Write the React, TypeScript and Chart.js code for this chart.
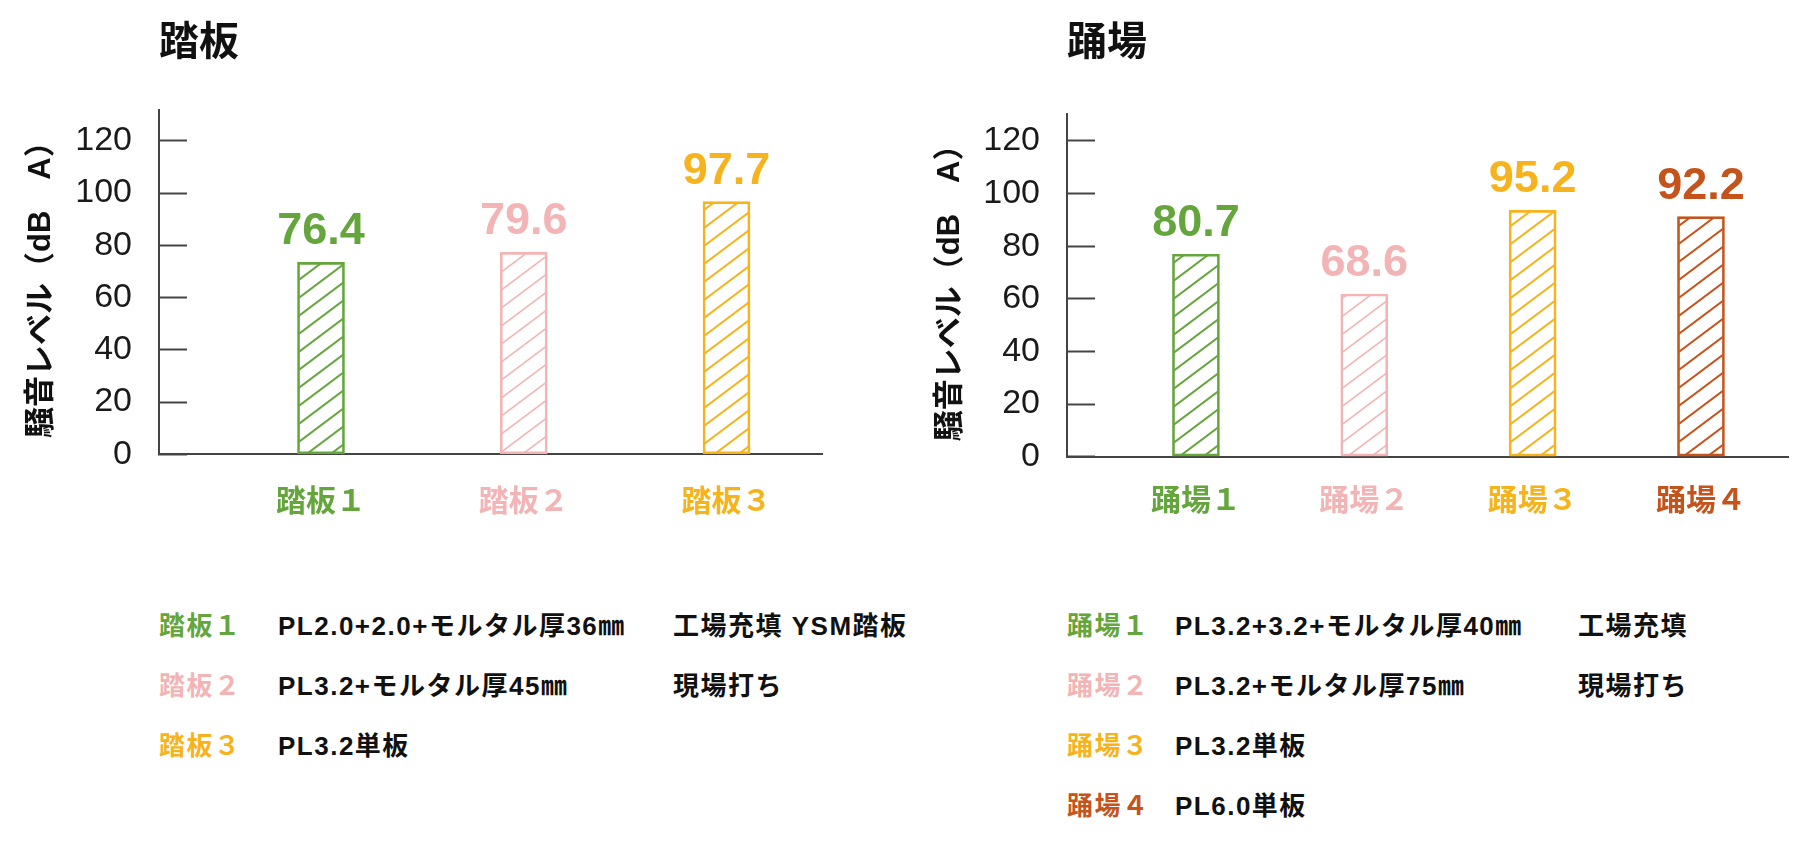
import React, { useEffect, useRef } from "react";
import { Chart, registerables } from "chart.js";

Chart.register(...registerables);

// ---- data ----
const treadTitle = "踏板";
const landingTitle = "踊場";
const yAxisTitle = "騒音レベル（dB　A）";
const yStep = 20;

const treadCategories = ["踏板１", "踏板２", "踏板３"];
const treadBarValues = [73.5, 77.3, 96.7];
const treadValueLabels = ["76.4", "79.6", "97.7"];
const treadColors = ["#64a53c", "#f2b4b4", "#f6b31b"];
const treadSpecs = ["PL2.0+2.0+モルタル厚36㎜", "PL3.2+モルタル厚45㎜", "PL3.2単板"];
const treadNotes = ["工場充填 YSM踏板", "現場打ち", ""];

const landingCategories = ["踊場１", "踊場２", "踊場３", "踊場４"];
const landingBarValues = [76.9, 61.8, 93.6, 91.2];
const landingValueLabels = ["80.7", "68.6", "95.2", "92.2"];
const landingColors = ["#64a53c", "#f2b4b4", "#f6b31b", "#c4541c"];
const landingSpecs = ["PL3.2+3.2+モルタル厚40㎜", "PL3.2+モルタル厚75㎜", "PL3.2単板", "PL6.0単板"];
const landingNotes = ["工場充填", "現場打ち", "", ""];

const LATIN = "'Liberation Sans', Arial, 'Noto Sans CJK JP', sans-serif";
const CJK = "'Liberation Sans', 'Noto Sans CJK JP', sans-serif";

function hatch(color: string, lw: number): CanvasPattern {
  const w = 24;
  const h = 18;
  const c = document.createElement("canvas");
  c.width = w;
  c.height = h;
  const g = c.getContext("2d")!;
  g.strokeStyle = color;
  g.lineWidth = lw;
  for (const dx of [-w, 0, w]) {
    g.beginPath();
    g.moveTo(dx - w, 2 * h);
    g.lineTo(dx + 2 * w, -h);
    g.stroke();
  }
  return g.createPattern(c, "repeat")!;
}

type PanelProps = {
  title: string;
  categories: string[];
  values: number[];
  valueLabels: string[];
  colors: string[];
  width: number;
  height: number;
  yMax: number;
  xMin: number;
  xMax: number;
  yAxisWidth: number;
  yTitlePad: number;
  titlePadBottom: number;
  xAxisHeight: number;
  xTickPad: number;
  padRight: number;
};

function BarPanel(p: PanelProps) {
  const ref = useRef<HTMLCanvasElement>(null);
  useEffect(() => {
    const canvas = ref.current!;
    const labelPlugin = {
      id: "valueLabels",
      afterDatasetsDraw(chart: any) {
        const meta = chart.getDatasetMeta(0);
        const ctx = chart.ctx as CanvasRenderingContext2D;
        ctx.save();
        ctx.font = `bold 45px ${LATIN}`;
        ctx.textAlign = "center";
        ctx.textBaseline = "alphabetic";
        meta.data.forEach((el: any, i: number) => {
          ctx.fillStyle = p.colors[i];
          ctx.fillText(p.valueLabels[i], el.x, el.y - 18);
        });
        ctx.restore();
      },
    };
    const chart = new Chart(canvas, {
      type: "bar",
      data: {
        datasets: [
          {
            data: p.values.map((v, i) => ({ x: i + 1, y: v })),
            backgroundColor: p.colors.map((c) => hatch(c, c === "#f2b4b4" ? 1.6 : 2)),
            borderColor: p.colors,
            borderWidth: 2,
            borderSkipped: false,
            barThickness: 47,
          } as any,
        ],
      },
      options: {
        responsive: false,
        animation: false,
        layout: { padding: { left: 0, right: p.padRight, top: 0, bottom: 0 } },
        plugins: {
          legend: { display: false },
          tooltip: { enabled: false },
          title: {
            display: true,
            text: p.title,
            align: "start",
            fullSize: false,
            color: "#111",
            font: { family: "'Noto Sans CJK JP', sans-serif", size: 40, weight: "bold" },
            padding: { top: 16, bottom: p.titlePadBottom },
          } as any,
        },
        scales: {
          x: {
            type: "linear",
            offset: false,
            min: p.xMin,
            max: p.xMax,
            afterBuildTicks: (s: any) => {
              s.ticks = p.categories.map((_, i) => ({ value: i + 1 }));
            },
            afterFit: (s: any) => {
              s.height = p.xAxisHeight;
            },
            grid: { display: false, drawTicks: false, offset: false },
            border: { display: true, color: "#444", width: 2 },
            ticks: {
              padding: p.xTickPad,
              autoSkip: false,
              maxRotation: 0,
              minRotation: 0,
              callback: (v: any) => p.categories[Math.round(Number(v)) - 1] ?? "",
              color: (ctx: any) => p.colors[ctx.index] ?? "#000",
              font: { family: CJK, size: 30, weight: "bold" },
            },
          } as any,
          y: {
            min: 0,
            max: p.yMax,
            afterFit: (s: any) => {
              s.width = p.yAxisWidth;
            },
            grid: {
              display: true,
              drawOnChartArea: false,
              drawTicks: true,
              tickLength: -28,
              tickColor: "#444",
              tickWidth: 2,
            },
            border: { display: true, color: "#444", width: 2 },
            ticks: {
              stepSize: yStep,
              includeBounds: false,
              padding: 55,
              color: "#1a1a1a",
              font: { family: LATIN, size: 34 },
            },
            title: {
              display: true,
              text: yAxisTitle,
              color: "#111",
              font: { family: CJK, size: 31, weight: "bold" },
              padding: { top: p.yTitlePad, bottom: 0 },
            },
          } as any,
        },
      },
      plugins: [labelPlugin],
    });
    return () => chart.destroy();
  }, []);
  return <canvas ref={ref} width={p.width} height={p.height} style={{ display: "block" }} />;
}

function Legend(props: {
  x: [number, number, number];
  names: string[];
  specs: string[];
  notes: string[];
  colors: string[];
}) {
  const rowCenters = [626, 686, 746, 806];
  const base: React.CSSProperties = {
    position: "absolute",
    height: 40,
    lineHeight: "40px",
    fontFamily: CJK,
    fontWeight: "bold",
    fontSize: 26,
    letterSpacing: "1.5px",
    whiteSpace: "nowrap",
  };
  return (
    <>
      {props.names.map((n, i) => (
        <React.Fragment key={n}>
          <div style={{ ...base, left: props.x[0], top: rowCenters[i] - 20, color: props.colors[i] }}>{n}</div>
          <div style={{ ...base, left: props.x[1], top: rowCenters[i] - 20, color: "#111" }}>{props.specs[i]}</div>
          {props.notes[i] ? (
            <div style={{ ...base, left: props.x[2], top: rowCenters[i] - 20, color: "#111" }}>{props.notes[i]}</div>
          ) : null}
        </React.Fragment>
      ))}
    </>
  );
}

export default function App() {
  return (
    <div style={{ position: "absolute", left: 0, top: 0, width: 1819, height: 865, background: "#fff", overflow: "hidden" }}>
      <div style={{ position: "absolute", left: 0, top: 0 }}>
        <BarPanel
          title={treadTitle}
          categories={treadCategories}
          values={treadBarValues}
          valueLabels={treadValueLabels}
          colors={treadColors}
          width={900}
          height={560}
          yMax={131.8}
          xMin={0.201}
          xMax={3.471}
          yAxisWidth={159}
          yTitlePad={22.4}
          titlePadBottom={46}
          xAxisHeight={105.7}
          xTickPad={30}
          padRight={78}
        />
      </div>
      <div style={{ position: "absolute", left: 900, top: 0 }}>
        <BarPanel
          title={landingTitle}
          categories={landingCategories}
          values={landingBarValues}
          valueLabels={landingValueLabels}
          colors={landingColors}
          width={919}
          height={560}
          yMax={130.2}
          xMin={0.234}
          xMax={4.517}
          yAxisWidth={167}
          yTitlePad={31.4}
          titlePadBottom={50}
          xAxisHeight={103.3}
          xTickPad={27}
          padRight={31}
        />
      </div>
      <Legend x={[159, 278, 673]} names={treadCategories} specs={treadSpecs} notes={treadNotes} colors={treadColors} />
      <Legend x={[1067, 1175, 1578]} names={landingCategories} specs={landingSpecs} notes={landingNotes} colors={landingColors} />
    </div>
  );
}
